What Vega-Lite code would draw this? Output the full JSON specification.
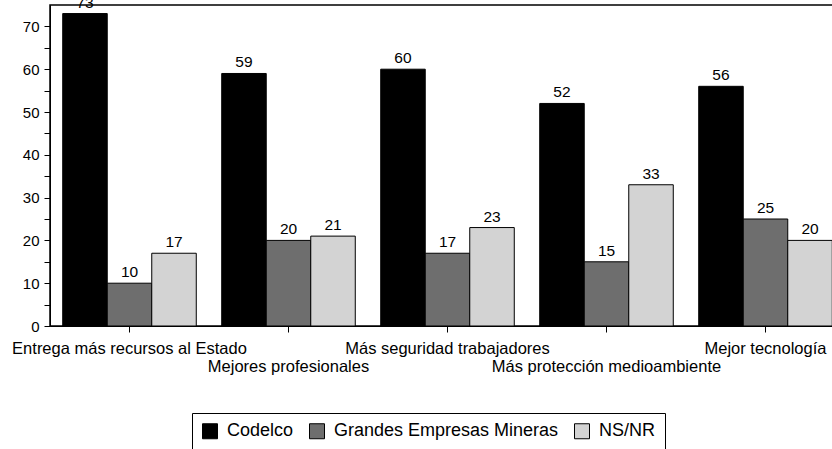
{
  "$schema": "https://vega.github.io/schema/vega-lite/v6.json",
  "autosize": "none",
  "padding": {"left": 50, "top": 5, "right": 0, "bottom": 123},
  "width": 795,
  "height": 321,
  "background": "white",
  "config": {
    "font": "Liberation Sans",
    "view": {"stroke": "black", "strokeWidth": 1.5},
    "axis": {"labelColor": "black", "domainColor": "black", "tickColor": "black", "grid": false, "labelFontSize": 15, "tickSize": 6, "titleColor": "black"}
  },
  "data": {
    "values": [
      {"cat": "Entrega más recursos al Estado", "serie": "Codelco", "v": 73},
      {"cat": "Entrega más recursos al Estado", "serie": "Grandes Empresas Mineras", "v": 10},
      {"cat": "Entrega más recursos al Estado", "serie": "NS/NR", "v": 17},
      {"cat": "Mejores profesionales", "serie": "Codelco", "v": 59},
      {"cat": "Mejores profesionales", "serie": "Grandes Empresas Mineras", "v": 20},
      {"cat": "Mejores profesionales", "serie": "NS/NR", "v": 21},
      {"cat": "Más seguridad trabajadores", "serie": "Codelco", "v": 60},
      {"cat": "Más seguridad trabajadores", "serie": "Grandes Empresas Mineras", "v": 17},
      {"cat": "Más seguridad trabajadores", "serie": "NS/NR", "v": 23},
      {"cat": "Más protección medioambiente", "serie": "Codelco", "v": 52},
      {"cat": "Más protección medioambiente", "serie": "Grandes Empresas Mineras", "v": 15},
      {"cat": "Más protección medioambiente", "serie": "NS/NR", "v": 33},
      {"cat": "Mejor tecnología", "serie": "Codelco", "v": 56},
      {"cat": "Mejor tecnología", "serie": "Grandes Empresas Mineras", "v": 25},
      {"cat": "Mejor tecnología", "serie": "NS/NR", "v": 20}
    ]
  },
  "encoding": {
    "x": {
      "field": "cat", "type": "nominal", "title": null,
      "sort": ["Entrega más recursos al Estado", "Mejores profesionales", "Más seguridad trabajadores", "Más protección medioambiente", "Mejor tecnología"],
      "scale": {"paddingInner": 0.16, "paddingOuter": 0.08},
      "axis": {
        "labelAngle": 0,
        "labelBaseline": "top",
        "labelFontSize": 16.5,
        "labelLimit": 0,
        "labelOverlap": false,
        "labelPadding": {"condition": {"test": "datum.value == 'Mejores profesionales' || datum.value == 'Más protección medioambiente'", "value": 26}, "value": 8}
      }
    },
    "xOffset": {"field": "serie", "type": "nominal", "sort": ["Codelco", "Grandes Empresas Mineras", "NS/NR"], "scale": {"paddingInner": 0, "paddingOuter": 0}},
    "y": {
      "field": "v", "type": "quantitative", "title": null,
      "scale": {"domain": [0, 75], "nice": false},
      "axis": {"values": [0, 5, 10, 15, 20, 25, 30, 35, 40, 45, 50, 55, 60, 65, 70], "labelExpr": "datum.value % 10 == 0 ? datum.label : ''", "labelPadding": 5}
    }
  },
  "layer": [
    {
      "mark": {"type": "bar", "stroke": "black", "strokeWidth": 1},
      "encoding": {
        "color": {
          "field": "serie", "type": "nominal", "sort": ["Codelco", "Grandes Empresas Mineras", "NS/NR"],
          "scale": {"domain": ["Codelco", "Grandes Empresas Mineras", "NS/NR"], "range": ["#000000", "#6e6e6e", "#d3d3d3"]},
          "legend": {
            "title": null, "orient": "none", "legendX": 142, "legendY": 408, "direction": "horizontal",
            "strokeColor": "black", "padding": 9, "symbolType": "square", "symbolSize": 225,
            "symbolStrokeColor": "black", "symbolStrokeWidth": 1, "labelFontSize": 18, "labelColor": "black",
            "columnPadding": 13, "labelOffset": 8, "labelLimit": 0
          }
        }
      }
    },
    {
      "mark": {"type": "text", "baseline": "bottom", "dy": -3, "fontSize": 15.5, "color": "black"},
      "encoding": {"text": {"field": "v", "type": "quantitative"}}
    }
  ]
}
